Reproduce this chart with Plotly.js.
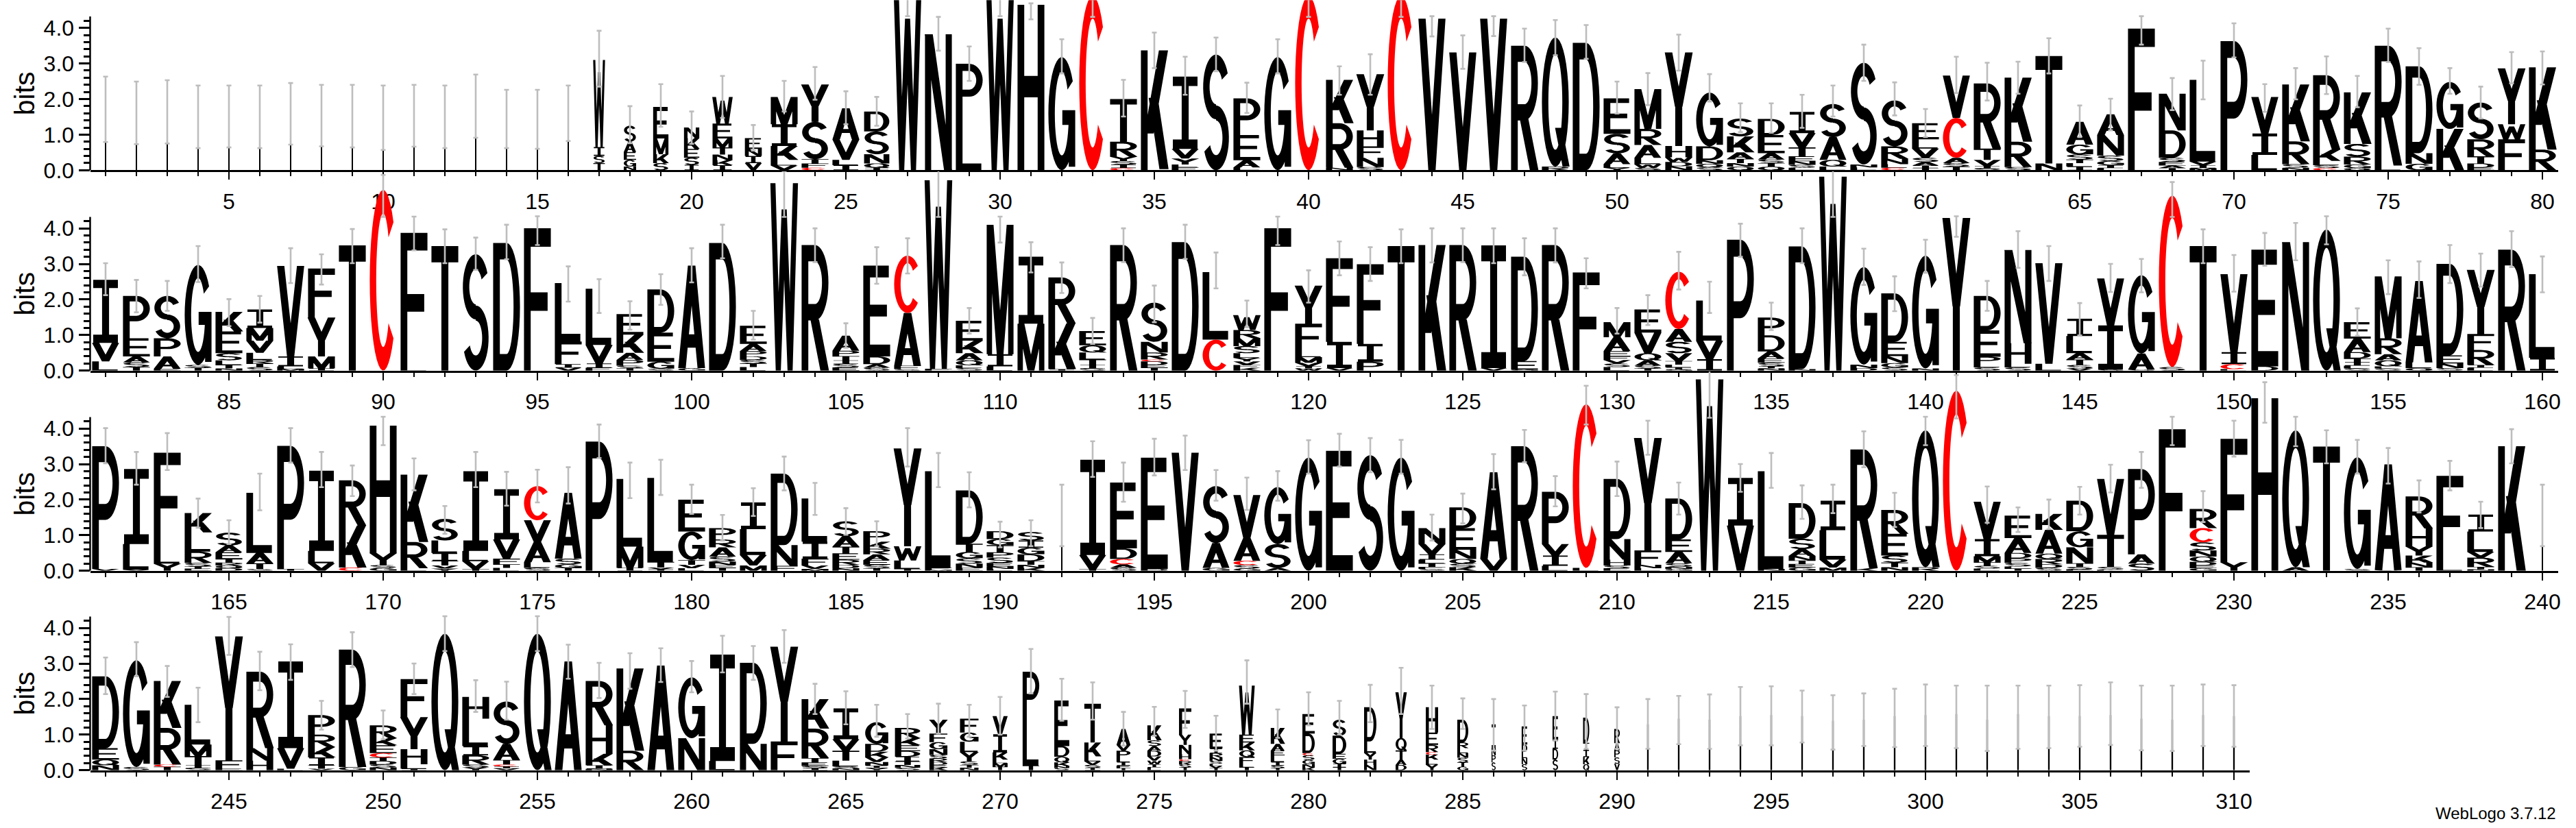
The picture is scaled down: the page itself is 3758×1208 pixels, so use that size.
<!DOCTYPE html>
<html><head><meta charset="utf-8">
<script src="https://cdn.plot.ly/plotly-3.0.1.min.js"></script>
<style>html,body{margin:0;padding:0;background:#fff}</style>
</head><body>
<div id="chart" style="width:3758px;height:1208px"></div>
<script>
// ---------- DATA (letters listed top -> bottom of each stack, heights in bits) ----------
const stackLetters = [
// 1-80
"X","X","X","X","X","X","X","X","X","X","X","X","X","X","X","X",
"WIST","SAEGN","EMKS","NKESI","WEMTNKI","ENIV","MIKLV","YSTFC","AVLI","DSNQI",
"W","N","PL","W","H","G","C","TRYSIC","KL","IVYLF","S","PEAL","G","C",
"KRN","YHFNS","C","V","V","V","R","QR","D","ESALY",
"MRALWS","YHWDN","GDNQS","SKATNQ","DEASTQ","IVTENSL","SAQL","SNL","SRNLC","ELVSAIT",
"VCAST","RTVIS","KRS","TN","AGSTLI","ANSGIL","F","NDSEAT","LVIM","P",
"VIL","KRSN","RKLSC","KSRGQ","RL","DNG","GK","SRTDE","YWF","KR",
// 81-160
"IVL","PEAST","SPAE","GST","KESLTN","IMVLRTS","VILM","FYMI","T","C",
"FL","T","S","D","F","LFIV","LVIF","EKAPST","DEGS","AG",
"D","EAPDSTL","W","R","APTISE","EDAS","CAFS","WF","EKAQLS","MIL",
"IM","RKI","EQLTIS","R","SNRCDET","D","LC","WRMSLYVFK","F","YFLMVIW",
"FIV","FIP","T","K","R","IV","DEG","R","F","MAEFVSL",
"EVQAST","CASVTLIG","LVI","P","PDAESIN","DN","W","GND","DENGS","GN",
"Y","DEPLS","NHLS","VL","ILATSV","VIS","GAS","CS","T","VICL",
"ED","N","Q","EADTILS","MRAQLS","ALQ","DENS","YFRIL","R","LI",
// 161-240
"PV","ILV","FLY","KLRSTE","SAETRQD","LATS","PT","ILV","RKC","HYSG",
"KRL","SLITVY","ILVT","IVFTL","CVALS","ASGT","P","LMI","LTVI","EGTVL",
"PRASNET","ILVM","DNF","LIFVM","SATERDN","PKRAEST","YWLT","LFM","DTGSNE","DGTPSENL",
"SIGDTNK","X","IVT","EDCAS","ED","V","SAG","VACSG","GSA","G",
"E","S","G","NVILTFS","DENQSK","AV","R","PVIL","CL","DNHSE",
"YFNL","DEASNG","W","IV","LN","DSANTEG","ILVM","RK","RESTN","QR",
"C","VIMTSL","EADPSLT","KAQRDS","DGNTSE","VTSL","PAS","F","RCSNQDEG","FY",
"H","QA","T","GS","AS","RHYKNT","FL","ILVRTN","K","X",
// 241-310
"DEQN","GS","KRCT","LMTIS","YFE","RNH","IVL","PRKITV","RG","RKECTDSN",
"FYHLI","Q","HLIRSY","SATCIV","Q","A","RHKIN","KR","A","GN",
"IL","DN","YF","KRTESI","IVTLSN","GDKVNIY","RKEDITNS","YFGNSRDEK","FGLYSTN","VIKLMT",
"PLT","EDQKNS","TKLVSI","AVPLIFT","KSADVWIL","FYNHCRST","EIRNSLVT","WEKQFLT","KAELIST","EDCSGNK",
"SDEGIT","DLYHN","YQTAD","HERCKLY","DRLNSTG","INPS","EDLNS","EIDS","DTIKQ","RAPSV",
"X","X","X","X","X","X","X","X","X","X",
"X","X","X","X","X","X","X","X","X","X"
];

const stackBits = [
// 1-80
[1.71],[1.61],[1.64],[1.5],[1.51],[1.5],[1.59],[1.53],[1.52],[1.47],[1.53],[1.5],[1.8],[1.44],[1.43],[1.6],
[2.45,.25,.2,.2],[.45,.29,.22,.19,.1],[.89,.44,.25,.2],[.3,.3,.25,.2,.15],[.75,.42,.25,.2,.16,.14,.14],
[.3,.2,.2,.2],[.77,.61,.39,.16,.13],[1.05,1.05,.12,.12,.07],[.87,.58,.15,.14],[.56,.64,.26,.12,.07],
[4.95],[3.82],[1.54,1.45],[4.95],[4.65],[3.18],[4.9],[1.2,.42,.12,.1,.1,.06],[3.34,.03],[2.03,.27,.17,.08,.08],
[3.25],[1.03,.71,.2,.08],[3.18],[4.9],
[1.22,1.25,.07],[1.58,.45,.32,.26,.09],[4.9],[4.26],[3.31],[4.26],[3.5],[3.63,.1],[3.58],[1.0,.55,.3,.1,.07],
[1.12,.45,.36,.18,.1,.07],[2.63,.32,.13,.12,.11],[1.51,.39,.1,.1,.08],[.5,.45,.18,.12,.1,.1],[.45,.51,.18,.1,.1,.1],
[.6,.4,.25,.14,.1,.08,.07],[.93,.64,.19,.1],[2.86,.08,.08],[1.29,.35,.15,.1,.07],[.45,.26,.26,.12,.1,.07,.06],
[1.19,1.12,.15,.1,.1],[1.83,.32,.17,.07,.05],[1.8,.71,.09],[3.02,.19],[.64,.28,.14,.1,.1,.1],
[.58,.58,.15,.12,.08,.06],[3.98],[1.03,.77,.12,.1,.07,.06],[2.3,.1,.08,.06],[3.63],
[1.03,.6,.43],[1.6,.64,.1,.07],[2.09,.32,.12,.08,.06],[1.45,.36,.22,.1,.06],[3.37,.13],
[2.44,.3,.18],[1.32,1.16],[1.03,.48,.2,.12,.07],[1.57,.42,.87],[2.31,.58],
// 81-160
[1.77,.52,.26],[1.19,.51,.17,.13,.1],[1.19,.51,.35,.05],[2.81,.08,.08],[.55,.61,.2,.13,.1,.06],
[.52,.36,.34,.2,.1,.1,.1],[2.54,.28,.07,.05],[1.38,1.09,.34,.06],[3.52],[5.08],
[3.82,.05],[3.5],[3.27],[3.59],[4.0],[1.64,.64,.1,.08],[1.58,.52,.12,.08],[.58,.51,.2,.16,.07,.07],[1.21,.82,.2,.05],[2.88,.07],
[3.59],[.51,.2,.15,.1,.1,.1,.1],[5.27],[3.53],[.42,.15,.12,.1,.1,.09],[2.55,.22,.1,.08],[1.61,1.48,.1,.04],[5.3,.05],[.56,.35,.2,.14,.08,.07],[3.64,.34,.12],
[1.88,1.32],[1.29,1.29,.04],[.4,.2,.2,.15,.1,.06],[3.53],[1.1,.3,.2,.05,.1,.08,.08],[3.61],[1.9,.87],[.42,.23,.22,.2,.13,.1,.1,.08,.08],[4.0],[1.07,.77,.17,.16,.1,.06,.06],
[2.35,.74,.07],[2.24,.5,.25],[3.5],[3.53],[3.53],[3.45,.07],[2.93,.24,.03],[3.53],[2.76],[.42,.39,.15,.1,.1,.1,.1],
[.65,.58,.2,.15,.08,.06],[1.61,.36,.32,.22,.1,.08,.06,.03],[1.13,.52,.32],[3.68],[.5,.45,.2,.12,.1,.06,.06],[3.45,.04],[5.45],[2.74,.1,.07],[1.36,.4,.2,.12,.09],[3.17,.06],
[4.29],[.97,.74,.2,.1,.09],[2.62,.58,.1,.09],[2.83,.19],[.49,.48,.18,.15,.1,.06],[1.32,1.24,.03],[2.2,.45,.03],[4.82,.1],[3.5],[2.19,.34,.14,.04],
[3.28,.12],[3.61],[3.97],[.46,.38,.18,.1,.1,.08,.06],[1.74,.45,.17,.17,.06,.06],[2.29,.16,.07],[2.57,.23,.13,.07],[1.8,.45,.42,.08,.08],[3.4],[2.35,.36],
// 161-240
[3.45,.05],[2.11,.72,.03],[2.7,.42,.2],[.54,.54,.32,.1,.06,.06],[.36,.19,.19,.1,.08,.08,.07],[1.69,.29,.16,.05],[3.46,.05],[2.25,.35,.21],[1.27,1.18,.09],[3.58,.34,.08,.08],
[1.89,.74,.07],[.61,.35,.22,.13,.09,.06],[2.24,.29,.22,.05],[1.41,.54,.16,.1,.08],[.96,.61,.57,.16,.08],[1.85,.16,.1,.08],[3.63],[1.9,.6,.08],[2.36,.16,.05,.04],[.9,.8,.13,.1,.07],
[.32,.22,.26,.14,.1,.08,.08],[.75,.73,.29,.15],[2.01,.58,.14],[1.21,.48,.19,.1,.05],[.42,.29,.19,.18,.14,.1,.07],[.29,.2,.16,.16,.13,.1,.07],[2.75,.4,.24,.05],[2.72,.05,.03],[1.5,.23,.18,.15,.12,.08],[.22,.17,.2,.15,.15,.1,.07,.05],
[.24,.2,.19,.19,.1,.09,.08],[1.55],[2.68,.4,.04],[1.85,.3,.15,.1,.08],[3.13,.05],[3.32],[1.6,.7,.08],[1.21,.64,.12,.1,.06],[1.6,.67,.08],[3.18],
[3.37],[3.25],[3.18],[.45,.29,.15,.1,.1,.06,.05],[.58,.61,.26,.13,.1,.1],[2.43,.34],[3.5],[1.47,.32,.29,.14],[4.6,.08],[1.69,.58,.16,.08,.07],
[3.16,.4,.1,.07],[1.15,.35,.32,.1,.06,.05],[5.38],[1.34,1.27],[2.75,.05],[1.0,.29,.19,.13,.1,.1,.09],[.83,.83,.22,.09],[3.34,.07],[.67,.61,.2,.13,.1],[3.85,.1],
[5.06],[1.05,.48,.17,.1,.08,.06],[.63,.42,.15,.13,.1,.06,.06],[.45,.67,.15,.15,.1,.08],[.86,.45,.45,.1,.07,.04],[1.57,.9,.08,.03],[2.4,.26,.2],[3.98],[.54,.4,.23,.17,.15,.1,.08,.07],[3.47,.24],
[4.85],[3.85,.1],[3.49],[3.14,.05],[2.97,.02],[.9,.5,.26,.2,.13,.1],[2.49,.18],[.48,.57,.16,.26,.07,.04],[3.5],[1.55],
// 241-310
[2.02,.32,.16,.14],[3.0,.09],[1.32,1.03,.06,.1],[1.12,.32,.26,.08,.06],[3.48,.24,.04],[2.15,.35,.27],[2.44,.58,.04],[.55,.35,.29,.22,.1,.04],[3.3,.09],[.36,.2,.22,.12,.1,.1,.08,.08],
[1.07,.9,.42,.13,.04],[3.84],[.61,.77,.26,.26,.08,.08],[1.19,.45,.13,.05,.06,.05],[3.84],[3.06],[1.25,.8,.32,.1,.04],[2.31,.55],[2.94],[1.71,.9],
[2.99,.26],[2.28,.74],[2.66,.81],[.83,.83,.12,.1,.06,.06],[.87,.32,.28,.16,.06,.05],[.61,.22,.16,.13,.1,.07,.06],[.29,.2,.16,.16,.13,.1,.08,.07],[.39,.24,.2,.16,.1,.1,.08,.07,.08],[.39,.26,.29,.26,.1,.08,.07],[.51,.51,.2,.1,.1,.1],
[1.32,1.32,.13],[1.28,.3,.16,.1,.06,.06],[1.09,.39,.14,.1,.08,.07],[.45,.16,.22,.1,.1,.07,.06],[.42,.16,.13,.16,.12,.1,.09,.08],[.74,.29,.26,.14,.05,.1,.08,.08],[.42,.13,.12,.1,.08,.06,.06,.06],[1.38,.22,.22,.19,.19,.1,.08],[.45,.19,.13,.19,.1,.07,.06],[.55,.55,.06,.13,.12,.1,.07],
[.45,.51,.14,.14,.1,.08],[.96,.32,.19,.15,.15],[1.28,.35,.26,.15,.15],[.71,.35,.2,.07,.14,.14,.16],[.64,.16,.14,.13,.13,.12,.1],[.67,.2,.2,.22],[.51,.2,.18,.17,.17],[.67,.25,.3,.3],[.71,.2,.2,.2,.17],[.4,.2,.2,.18,.18],
[1.29],[1.45],[1.42],[1.52],[1.55],[1.52],[1.39],[1.42],[1.52],[1.55],
[1.58],[1.42],[1.58],[1.52],[1.52],[1.55],[1.45],[1.42],[1.55],[1.52]
];

// columns narrower than a full stack (all other columns use the full width)
const narrowPositions = [
1,2,3,4,5,6,7,8,9,10,11,12,13,14,15,16,
17,18,19,20,21,22,26,192,240,
266,267,268,269,270,271,272,273,274,275,276,277,278,279,280,281,282,283,284,285,286,287,288,289,290,
291,292,293,294,295,296,297,298,299,300,301,302,303,304,305,306,307,308,309,310
];
const narrowWidths = [
.05,.05,.05,.05,.05,.05,.05,.05,.05,.05,.05,.05,.05,.05,.05,.05,
.43,.46,.57,.57,.74,.63,.94,.05,.05,
.86,.94,.67,.69,.56,.62,.56,.62,.52,.52,.46,.48,.57,.52,.46,.51,.46,.41,.46,.41,.16,.21,.21,.23,.21,
.06,.06,.06,.06,.06,.06,.06,.06,.06,.06,.06,.06,.06,.06,.06,.06,.06,.06,.06,.06
];

const errorLow = [
.79,.73,.75,.62,.64,.62,.72,.67,.64,.57,.66,.62,.91,.62,.60,.82,
2.35,.76,1.22,.74,1.47,.55,1.65,1.98,1.29,1.25,
4.33,3.36,2.51,4.33,4.24,2.72,4.31,1.51,2.87,2.12,2.78,1.61,2.72,4.31,
2.12,2.12,4.31,3.76,2.85,3.77,3.04,3.23,3.13,1.59,
1.83,2.8,1.93,1.07,1.05,1.19,1.51,2.51,1.54,.93,
2.17,1.96,2.15,2.72,.93,1.12,3.53,1.69,1.99,3.17,
1.64,1.99,2.14,1.77,3.04,2.4,2.15,1.45,2.44,2.41,
2.12,1.64,1.68,2.49,1.25,1.35,2.46,2.42,3.02,4.32,
3.38,3.02,2.83,3.13,3.53,1.94,1.62,1.15,1.85,2.48,
3.16,.87,4.32,3.05,.64,2.44,2.73,4.32,1.04,3.6,
2.76,2.18,.75,3.05,1.36,3.14,2.31,1.22,3.53,1.91,
2.68,2.52,3.02,3.04,3.05,3.02,2.68,3.04,2.31,1.04,
1.28,2.28,1.62,3.2,1.14,3.02,4.32,2.41,1.67,2.75,
3.76,1.68,2.89,2.52,.99,2.21,2.2,4.32,3.02,2.22,
2.95,3.1,3.55,.98,2.15,2.04,2.46,2.36,2.91,2.2,
3.02,2.42,2.83,1.21,.75,1.7,3.04,2.35,2.1,3.53,
2.26,1.04,2.35,1.83,1.92,1.89,3.17,2.04,2.13,1.6,
.85,1.54,2.26,1.57,1.01,.69,2.93,2.35,1.78,.66,
.69,.69,2.64,1.94,2.68,2.83,1.97,1.71,1.97,2.73,
2.93,2.77,2.73,.85,1.33,2.29,3.05,1.81,4.11,2.1,
3.26,1.58,4.3,2.22,2.33,1.46,1.62,2.91,1.23,3.53,
4.28,1.35,1.09,1.17,1.58,2.2,2.33,3.53,1.37,3.21,
4.16,3.5,3.02,2.73,2.45,1.64,2.26,1.2,3.02,.69,
2.14,2.64,2.06,1.35,3.24,2.25,2.54,1.14,2.9,.87,
2.14,3.35,1.64,1.42,3.35,2.57,2.03,2.29,2.48,2.19,
2.75,2.54,3.02,1.58,1.29,.94,.89,1.03,.94,1.0,
2.16,1.39,1.42,.69,.97,1.19,.55,1.87,.91,1.26,
1.0,1.35,1.58,1.16,1.16,.55,.55,.84,.6,.6,
.6,.73,.6,.7,.7,.78,.58,.68,.65,.68,
.62,.54,.6,.62,.66,.71,.56,.54,.68,.66
];

const errorHigh = [
2.63,2.49,2.53,2.38,2.38,2.38,2.45,2.40,2.40,2.38,2.40,2.38,2.69,2.26,2.26,2.38,
3.92,1.8,2.42,1.65,2.65,1.27,2.51,2.9,2.22,2.06,
5.4,4.31,3.48,5.4,4.69,3.68,5.3,2.54,3.87,3.19,3.73,2.46,3.68,5.3,
2.92,3.26,5.3,4.33,3.79,4.33,3.98,4.22,4.08,2.49,
2.73,3.81,2.7,1.88,1.88,2.12,2.38,3.53,2.47,1.72,
3.19,3.02,3.05,3.71,1.82,2.01,4.33,2.59,3.08,4.13,
2.42,2.87,3.2,2.65,3.98,3.43,2.87,2.35,3.32,3.34,
3.02,2.55,2.52,3.5,2.01,2.1,3.44,3.27,3.98,5.5,
4.33,3.97,3.74,4.1,4.34,2.93,2.57,1.95,2.71,3.44,
4.1,1.68,5.6,4.0,1.33,3.47,3.72,5.8,1.76,4.33,
3.61,3.04,1.48,4.0,2.39,4.1,3.32,1.97,4.33,2.82,
3.63,3.47,3.97,4.0,4.0,4.0,3.72,4.0,3.16,1.76,
2.12,3.34,2.5,4.13,1.91,4.0,5.9,3.43,2.65,3.68,
4.34,2.52,3.92,3.5,1.9,3.0,3.14,5.3,3.97,3.25,
3.87,4.15,4.34,1.75,3.1,3.07,3.53,3.29,3.92,3.21,
4.01,3.34,3.87,2.03,1.42,2.73,4.01,3.34,2.96,4.33,
3.16,1.82,3.34,2.78,2.84,2.91,4.11,3.04,3.12,2.42,
1.57,2.32,3.21,2.47,1.76,1.39,4.01,3.31,2.77,1.38,
1.42,2.42,3.64,3.04,3.71,3.8,2.83,2.62,2.8,3.67,
3.85,3.73,3.68,1.58,2.17,3.28,3.96,2.66,5.2,3.07,
4.22,2.48,5.8,3.0,3.31,2.4,2.42,3.92,2.19,4.33,
5.5,2.37,1.78,2.0,2.36,2.98,3.34,4.33,2.24,4.22,
5.3,4.33,3.95,3.68,3.45,2.54,3.09,1.94,3.98,2.42,
3.17,3.6,2.93,2.32,4.31,3.33,3.54,1.95,3.88,1.68,
3.0,4.33,2.53,2.49,4.33,3.53,3.02,3.29,3.43,3.07,
3.78,3.49,3.94,2.43,2.22,1.84,1.58,1.87,1.84,2.06,
3.41,2.57,2.47,1.64,1.78,2.23,1.53,3.09,1.71,2.19,
1.95,2.4,2.88,2.38,2.02,2.0,1.82,2.21,2.14,1.77,
2.0,2.09,2.13,2.34,2.36,2.24,2.11,2.16,2.29,2.41,
2.38,2.38,2.38,2.38,2.39,2.47,2.38,2.38,2.41,2.39
];

const rowStart = [1, 81, 161, 241];
const rowEnd   = [80, 160, 240, 310];
const yTickVals = [0, 1, 2, 3, 4];
const yTickText = ["0.0", "1.0", "2.0", "3.0", "4.0"];
const yAxisTitle = "bits";
const creditText = "WebLogo 3.7.12";

// ---------- letter glyph outlines in a unit box ----------
const TX = 0.24, TY = 0.13;
function orient(p){let a=0;for(let i=0;i<p.length;i++){const q=p[i],r=p[(i+1)%p.length];a+=q[0]*r[1]-r[0]*q[1];}return a<0?p.slice().reverse():p;}
function R(x0,y0,x1,y1){return orient([[x0,y0],[x1,y0],[x1,y1],[x0,y1]]);}
function S(xb,yb,xt,yt,w){return orient([[xb-w/2,yb],[xb+w/2,yb],[xt+w/2,yt],[xt-w/2,yt]]);}
function A(cx,cy,rx,ry,a0,a1,tx,ty){tx=tx===undefined?TX:tx;ty=ty===undefined?TY:ty;
  const n=Math.max(6,Math.ceil(Math.abs(a1-a0)/9));const o=[],inn=[];
  for(let k=0;k<=n;k++){const a=(a0+(a1-a0)*k/n)*Math.PI/180;
    o.push([cx+rx*Math.cos(a),cy+ry*Math.sin(a)]);inn.push([cx+(rx-tx)*Math.cos(a),cy+(ry-ty)*Math.sin(a)]);}
  return orient(o.concat(inn.reverse()));}
const P_BOWL=[R(0,0,0.25,1),R(0,1-TY,0.5,1),R(0,0.4,0.5,0.4+TY),A(0.5,0.7,0.5,0.3,-90,90)];
const GLYPHS={
 A:[S(0.14,0,0.5,1,0.28),S(0.86,0,0.5,1,0.28),R(0.24,0.2,0.76,0.2+TY)],
 C:[A(0.5,0.5,0.5,0.5,40,180),A(0.5,0.5,0.5,0.5,180,320)],
 D:[R(0,0,0.25,1),R(0,1-TY,0.5,1),R(0,0,0.5,TY),A(0.5,0.5,0.5,0.5,-90,90)],
 E:[R(0,0,0.25,1),R(0,1-TY,0.95,1),R(0,0.44,0.88,0.44+TY),R(0,0,1,TY)],
 F:[R(0,0,0.25,1),R(0,1-TY,1,1),R(0,0.42,0.88,0.42+TY)],
 G:[A(0.5,0.5,0.5,0.5,35,180),A(0.5,0.5,0.5,0.5,180,360),R(0.52,0.4,1,0.4+TY),R(1-TX,0.03,1,0.52)],
 H:[R(0,0,0.25,1),R(0.75,0,1,1),R(0,0.44,1,0.44+TY)],
 I:[R(0.37,0,0.63,1),R(0.04,1-TY,0.96,1),R(0.04,0,0.96,TY)],
 K:[R(0,0,0.25,1),S(0.3,0.3,0.84,1,0.34),S(0.86,0,0.46,0.6,0.34)],
 L:[R(0,0,0.25,1),R(0,0,0.95,TY)],
 M:[R(0,0,0.2,1),R(0.8,0,1,1),S(0.5,0,0.13,1,0.25),S(0.5,0,0.87,1,0.25)],
 N:[R(0,0,0.23,1),R(0.77,0,1,1),S(0.86,0,0.14,1,0.3)],
 P:P_BOWL,
 Q:[A(0.5,0.5,0.5,0.5,0,180),A(0.5,0.5,0.5,0.5,180,360),S(0.9,0,0.62,0.3,0.26)],
 R:P_BOWL.concat([S(0.86,0,0.45,0.45,0.32)]),
 S:[A(0.5,0.72,0.48,0.28,25,270),A(0.5,0.28,0.48,0.28,90,-155)],
 T:[R(0,1-TY,1,1),R(0.37,0,0.63,1)],
 V:[S(0.5,0,0.13,1,0.27),S(0.5,0,0.87,1,0.27)],
 W:[S(0.28,0,0.08,1,0.19),S(0.28,0,0.5,0.86,0.19),S(0.72,0,0.5,0.86,0.19),S(0.72,0,0.92,1,0.19)],
 Y:[S(0.5,0.42,0.12,1,0.28),S(0.5,0.42,0.88,1,0.28),R(0.37,0,0.63,0.46)],
 X:[R(0,0,1,1)]
};

// ---------- geometry of the page ----------
const W = 3758, H = 1208, PX_PER_BIT = 51.9, COL_PX = 45, X0 = 131.5;
const baseY = [248.3, 540.7, 832.7, 1123.7];
const yMax = [4.78, 5.6, 5.6, 5.6];
const FONT = "Liberation Sans, Arial, Helvetica, sans-serif";

function widthOf(p){ const j = narrowPositions.indexOf(p); return j < 0 ? 1 : narrowWidths[j]; }

const traces = [], layout = {
  width: W, height: H, margin: {l:0, r:0, t:0, b:0},
  paper_bgcolor: "#fff", plot_bgcolor: "rgba(0,0,0,0)", showlegend: false,
  shapes: [], annotations: []
};
const minorY = [];
for (let v = 0.2; v < 4.3; v += 0.2) { const r = Math.round(v*10)/10; if (Math.abs(r - Math.round(r)) > 1e-6) minorY.push(r); }

for (let r = 0; r < 4; r++) {
  const sfx = r === 0 ? "" : String(r+1);
  const xa = "x" + sfx, ya = "y" + sfx;
  const blk = {x:[], y:[]}, red = {x:[], y:[]};
  const ex = [], ey = [], ep = [], em = [];
  for (let p = rowStart[r]; p <= rowEnd[r]; p++) {
    const i = p - 1, letters = stackLetters[i], bits = stackBits[i];
    const lw = 0.87 * widthOf(p);
    let base = 0;
    for (let k = letters.length - 1; k >= 0; k--) {
      const L = letters[k], h = bits[k];
      const tgt = L === "C" ? red : blk;
      for (const poly of (GLYPHS[L] || GLYPHS.X)) {
        for (const pt of poly) { tgt.x.push(p - lw/2 + pt[0]*lw); tgt.y.push(base + pt[1]*h); }
        tgt.x.push(null); tgt.y.push(null);
      }
      base += h;
    }
    ex.push(p); ey.push(base);
    ep.push(Math.max(0, errorHigh[i] - base)); em.push(Math.max(0, base - errorLow[i]));
  }
  traces.push({type:"scatter", mode:"lines", x:blk.x, y:blk.y, xaxis:xa, yaxis:ya, fill:"toself",
    fillcolor:"#000", line:{width:0, color:"rgba(0,0,0,0)", simplify:false}, hoverinfo:"skip"});
  traces.push({type:"scatter", mode:"lines", x:red.x, y:red.y, xaxis:xa, yaxis:ya, fill:"toself",
    fillcolor:"#ff0000", line:{width:0, color:"rgba(0,0,0,0)", simplify:false}, hoverinfo:"skip"});
  traces.push({type:"scatter", mode:"markers", x:ex, y:ey, xaxis:xa, yaxis:ya,
    marker:{size:1, color:"rgba(0,0,0,0)"}, hoverinfo:"skip",
    error_y:{type:"data", symmetric:false, array:ep, arrayminus:em, color:"#bdbdbd", thickness:2.6, width:3.5}});

  const n = rowEnd[r] - rowStart[r] + 1;
  const bottom = (H - baseY[r]) / H;
  const top = Math.min(1, bottom + yMax[r]*PX_PER_BIT/H);
  layout["xaxis" + sfx] = {
    domain:[X0/W, (X0 + n*COL_PX)/W], range:[rowStart[r]-0.5, rowEnd[r]+0.5], anchor:ya,
    tickmode:"linear", tick0:0, dtick:5, ticks:"outside", ticklen:11, tickwidth:2, tickcolor:"#000",
    minor:{ticks:"outside", dtick:1, tick0:0, ticklen:6, tickwidth:2, tickcolor:"#000"},
    showline:true, linewidth:3, linecolor:"#000", showgrid:false, zeroline:false,
    tickfont:{family:FONT, size:32, color:"#000"}, ticklabelstandoff:4, fixedrange:true
  };
  layout["yaxis" + sfx] = {
    domain:[bottom, top], range:[0, yMax[r]], anchor:xa,
    tickmode:"array", tickvals:yTickVals, ticktext:yTickText, ticks:"outside", ticklen:16, tickwidth:3, tickcolor:"#000",
    minor:{ticks:"outside", tickmode:"array", tickvals:minorY, ticklen:9, tickwidth:3, tickcolor:"#000"},
    showline:false, showgrid:false, zeroline:false,
    tickfont:{family:FONT, size:32, color:"#000"}, fixedrange:true
  };
  layout.shapes.push({type:"line", xref:xa + " domain", yref:ya, x0:0, x1:0, y0:0, y1:4.32,
    line:{color:"#000", width:2.5}});
  // y-axis label "bits", centred on the 0 – 4.32 bit span of the row
  layout.annotations.push({text:yAxisTitle, xref:"paper", yref:ya, x:36/W, y:2.16, textangle:-90,
    xanchor:"center", yanchor:"middle", showarrow:false, font:{family:FONT, size:41, color:"#000"}});
}
layout.annotations.push({text:creditText, xref:"paper", yref:"paper", x:3731/W, y:6/H,
  xanchor:"right", yanchor:"bottom", showarrow:false, font:{family:FONT, size:24, color:"#000"}});

Plotly.newPlot("chart", traces, layout, {staticPlot:true, displayModeBar:false});
</script>
</body></html>
